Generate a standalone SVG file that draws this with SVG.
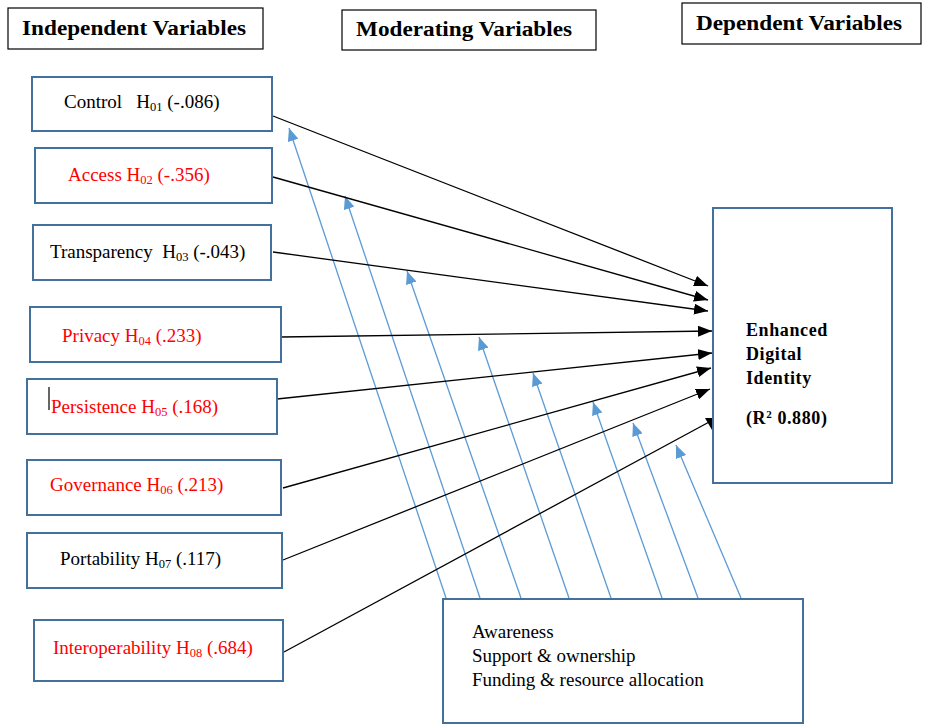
<svg xmlns="http://www.w3.org/2000/svg" width="928" height="725" viewBox="0 0 928 725">
  <style>
    .hdr { fill: #fff; stroke: #000; stroke-width: 1.2; }
    .hdr-t { font-family: "Liberation Serif", "Times New Roman", serif; font-weight: bold; font-size: 20px; fill: #000; }
    .box { fill: #fff; stroke: #41719C; stroke-width: 2; }
    .t { font-family: "Liberation Serif", "Times New Roman", serif; font-size: 19px; white-space: pre; }
    .blk { fill: #000; }
    .red { fill: #FF0000; }
    .sub { font-size: 12.5px; }
    .dv { font-family: "Liberation Serif", "Times New Roman", serif; font-weight: bold; font-size: 18px; fill: #000; letter-spacing: 0.6px; }
    .mod { font-family: "Liberation Serif", "Times New Roman", serif; font-size: 19px; fill: #000; }
    .eff { stroke: #000; stroke-width: 1.3; fill: none; marker-end: url(#headBlack); }
    .modl { stroke: #5B9BD5; stroke-width: 1.3; fill: none; marker-end: url(#headBlue); }
  </style>
  <defs>
    <marker id="headBlack" markerUnits="userSpaceOnUse" markerWidth="15" markerHeight="11" refX="14" refY="5.5" orient="auto">
      <path d="M0,0 L14,5.5 L0,11 z" fill="#000"/>
    </marker>
    <marker id="headBlue" markerUnits="userSpaceOnUse" markerWidth="14" markerHeight="11" refX="13" refY="5.5" orient="auto">
      <path d="M0,0 L13,5.5 L0,11 z" fill="#5B9BD5"/>
    </marker>
  </defs>

  <rect width="928" height="725" fill="#fff"/>

  <!-- column headings -->
  <g id="hdr-independent">
    <rect class="hdr" x="8" y="8" width="255" height="41"/>
    <text class="hdr-t" x="22" y="35" textLength="224" lengthAdjust="spacingAndGlyphs">Independent Variables</text>
  </g>
  <g id="hdr-moderating">
    <rect class="hdr" x="342" y="10" width="254" height="40"/>
    <text class="hdr-t" x="356" y="36" textLength="216" lengthAdjust="spacingAndGlyphs">Moderating Variables</text>
  </g>
  <g id="hdr-dependent">
    <rect class="hdr" x="682" y="3" width="239" height="41"/>
    <text class="hdr-t" x="696" y="30" textLength="206" lengthAdjust="spacingAndGlyphs">Dependent Variables</text>
  </g>

  <!-- connectors -->
  <g id="connectors">
    <!-- moderating effects -->
    <line class="modl" x1="446" y1="598" x2="289" y2="128"/>
    <line class="modl" x1="480" y1="598" x2="345" y2="196"/>
    <line class="modl" x1="521" y1="598" x2="407" y2="271"/>
    <line class="modl" x1="569" y1="598" x2="479" y2="337"/>
    <line class="modl" x1="611" y1="598" x2="533" y2="373"/>
    <line class="modl" x1="662" y1="598" x2="593" y2="402"/>
    <line class="modl" x1="698" y1="598" x2="633" y2="423"/>
    <line class="modl" x1="741" y1="598" x2="676" y2="445"/>
    <!-- direct effects -->
    <line class="eff" x1="273" y1="116" x2="708" y2="286"/>
    <line class="eff" x1="273" y1="177" x2="708" y2="300"/>
    <line class="eff" x1="273" y1="252" x2="708" y2="311"/>
    <line class="eff" x1="281" y1="337" x2="712" y2="331"/>
    <line class="eff" x1="277" y1="399" x2="712" y2="353"/>
    <line class="eff" x1="283" y1="488" x2="711" y2="368"/>
    <line class="eff" x1="283" y1="560" x2="710" y2="389"/>
    <line x1="284" y1="652" x2="711" y2="421" stroke="#000" stroke-width="1.3"/>
    <polygon points="705,418 719,418 712,430" fill="#000"/>
  </g>

  <!-- independent variables -->
  <g id="n-control">
    <rect class="box" x="32" y="77" width="240" height="54"/>
    <text class="t blk" x="64" y="108">Control   H<tspan class="sub" dy="3">01</tspan><tspan dy="-3"> (-.086)</tspan></text>
  </g>
  <g id="n-access">
    <rect class="box" x="35" y="148" width="237" height="55"/>
    <text class="t red" x="68" y="181">Access H<tspan class="sub" dy="3">02</tspan><tspan dy="-3"> (-.356)</tspan></text>
  </g>
  <g id="n-transparency">
    <rect class="box" x="33" y="225" width="238" height="55"/>
    <text class="t blk" x="50" y="258">Transparency  H<tspan class="sub" dy="3">03</tspan><tspan dy="-3"> (-.043)</tspan></text>
  </g>
  <g id="n-privacy">
    <rect class="box" x="30" y="307" width="251" height="55"/>
    <text class="t red" x="62" y="342">Privacy H<tspan class="sub" dy="3">04</tspan><tspan dy="-3"> (.233)</tspan></text>
  </g>
  <g id="n-persistence">
    <rect class="box" x="27" y="379" width="250" height="55"/>
    <line x1="49" y1="387" x2="49" y2="410" stroke="#000" stroke-width="1.2"/>
    <text class="t red" x="51" y="413">Persistence H<tspan class="sub" dy="3">05</tspan><tspan dy="-3"> (.168)</tspan></text>
  </g>
  <g id="n-governance">
    <rect class="box" x="27" y="460" width="254" height="55"/>
    <text class="t red" x="50" y="491">Governance H<tspan class="sub" dy="3">06</tspan><tspan dy="-3"> (.213)</tspan></text>
  </g>
  <g id="n-portability">
    <rect class="box" x="27" y="533" width="255" height="55"/>
    <text class="t blk" x="60" y="565">Portability H<tspan class="sub" dy="3">07</tspan><tspan dy="-3"> (.117)</tspan></text>
  </g>
  <g id="n-interoperability">
    <rect class="box" x="34" y="620" width="249" height="61"/>
    <text class="t red" x="53" y="654">Interoperability H<tspan class="sub" dy="3">08</tspan><tspan dy="-3"> (.684)</tspan></text>
  </g>

  <!-- dependent variable -->
  <g id="n-digital-identity">
    <rect class="box" x="713" y="208" width="179" height="275"/>
    <text class="dv" x="746" y="336">Enhanced</text>
    <text class="dv" x="746" y="360">Digital</text>
    <text class="dv" x="746" y="384">Identity</text>
    <text class="dv" x="746" y="424">(R<tspan font-size="11" dy="-6">2</tspan><tspan dy="6"> 0.880)</tspan></text>
  </g>

  <!-- moderating variables -->
  <g id="n-moderators">
    <rect class="box" x="443" y="599" width="360" height="124"/>
    <text class="mod" x="472" y="638">Awareness</text>
    <text class="mod" x="472" y="662">Support &amp; ownership</text>
    <text class="mod" x="472" y="686">Funding &amp; resource allocation</text>
  </g>
</svg>
